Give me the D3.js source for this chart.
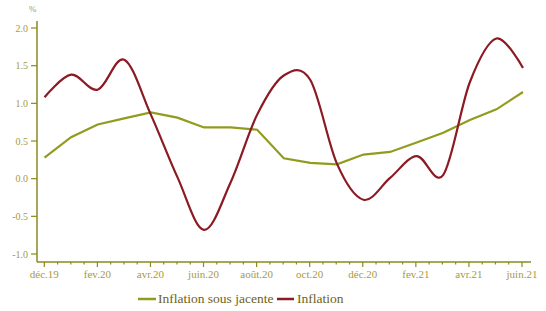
<!DOCTYPE html>
<html><head><meta charset="utf-8">
<script src="https://cdn.jsdelivr.net/npm/d3@7"></script>
<style>body{margin:0;background:#fff}svg{display:block}text{font-family:"Liberation Serif","DejaVu Serif",serif}</style>
</head><body>
<svg id="c" width="546" height="311"></svg>
<script>
const months = ["déc.19","janv.20","fev.20","mars.20","avr.20","mai.20","juin.20","juil.20","août.20","sept.20","oct.20","nov.20","déc.20","janv.21","fev.21","mars.21","avr.21","mai.21","juin.21"];
const tickLabels = ["déc.19","fev.20","avr.20","juin.20","août.20","oct.20","déc.20","fev.21","avr.21","juin.21"];
const sousJacente = [0.28,0.55,0.72,0.80,0.88,0.81,0.68,0.68,0.65,0.27,0.21,0.19,0.32,0.355,0.48,0.61,0.78,0.92,1.15];
const inflation = [1.08,1.38,1.18,1.58,0.85,0.02,-0.68,-0.05,0.85,1.37,1.31,0.20,-0.28,0.01,0.30,0.05,1.28,1.86,1.47];
const yTicks = [-1.0,-0.5,0.0,0.5,1.0,1.5,2.0];
const seriesNames = ["Inflation sous jacente","Inflation"];

const axisCol = "#8a8a1e", textCol = "#a89a3c", legCol = "#6e6220";
const olive = "#939b1f", red = "#8c1a22";
const svg = d3.select("#c");
const x = d3.scaleLinear().domain([0, months.length-1]).range([44.5, 523]);
const y = d3.scaleLinear().domain([-1, 2]).range([254, 28]);
const xAxisY = 262, yAxisX = 37;

// y axis
svg.append("line").attr("x1",yAxisX).attr("x2",yAxisX).attr("y1",21).attr("y2",xAxisY).attr("stroke",axisCol).attr("stroke-width",1.5);
yTicks.forEach(v=>{
  svg.append("line").attr("x1",yAxisX-6).attr("x2",yAxisX).attr("y1",y(v)).attr("y2",y(v)).attr("stroke",axisCol).attr("stroke-width",1.2);
  svg.append("text").attr("x",yAxisX-9).attr("y",y(v)+3.5).attr("text-anchor","end")
    .attr("font-size",10).attr("fill",textCol).text(v.toFixed(1));
});
svg.append("text").attr("x",29).attr("y",12).attr("font-size",9).attr("fill",textCol).text("%");

// x axis
svg.append("line").attr("x1",yAxisX).attr("x2",531).attr("y1",xAxisY).attr("y2",xAxisY).attr("stroke",axisCol).attr("stroke-width",1.5);
const xTickScale = d3.scaleLinear().domain([0,18]).range([44.3, 522]);
for(let i=0;i<=36;i++){
  const v=i/2, major = i%4===0;
  svg.append("line").attr("x1",xTickScale(v)).attr("x2",xTickScale(v)).attr("y1",xAxisY).attr("y2",xAxisY+(major?5:2.5))
    .attr("stroke",axisCol).attr("stroke-width",1.2);
}
tickLabels.forEach((t,i)=>{
  svg.append("text").attr("x",xTickScale(i*2)).attr("y",278).attr("text-anchor","middle")
    .attr("font-size",11).attr("fill",textCol).text(t);
});

// lines
svg.append("path").datum(sousJacente).attr("fill","none").attr("stroke",olive).attr("stroke-width",2.2)
  .attr("d",d3.line().x((d,i)=>x(i)).y(d=>y(d)));
svg.append("path").datum(inflation).attr("fill","none").attr("stroke",red).attr("stroke-width",2.2)
  .attr("d",d3.line().x((d,i)=>x(i)).y(d=>y(d)).curve(d3.curveCardinal.tension(0)));

// legend
const lg = svg.append("g");
lg.append("line").attr("x1",138).attr("x2",156).attr("y1",299).attr("y2",299).attr("stroke",olive).attr("stroke-width",2.5);
lg.append("text").attr("x",158).attr("y",303).attr("font-size",13.5).attr("fill",legCol).text(seriesNames[0]);
lg.append("line").attr("x1",277).attr("x2",294).attr("y1",299).attr("y2",299).attr("stroke",red).attr("stroke-width",2.5);
lg.append("text").attr("x",297).attr("y",303).attr("font-size",13.5).attr("fill",legCol).text(seriesNames[1]);
</script>
</body></html>
